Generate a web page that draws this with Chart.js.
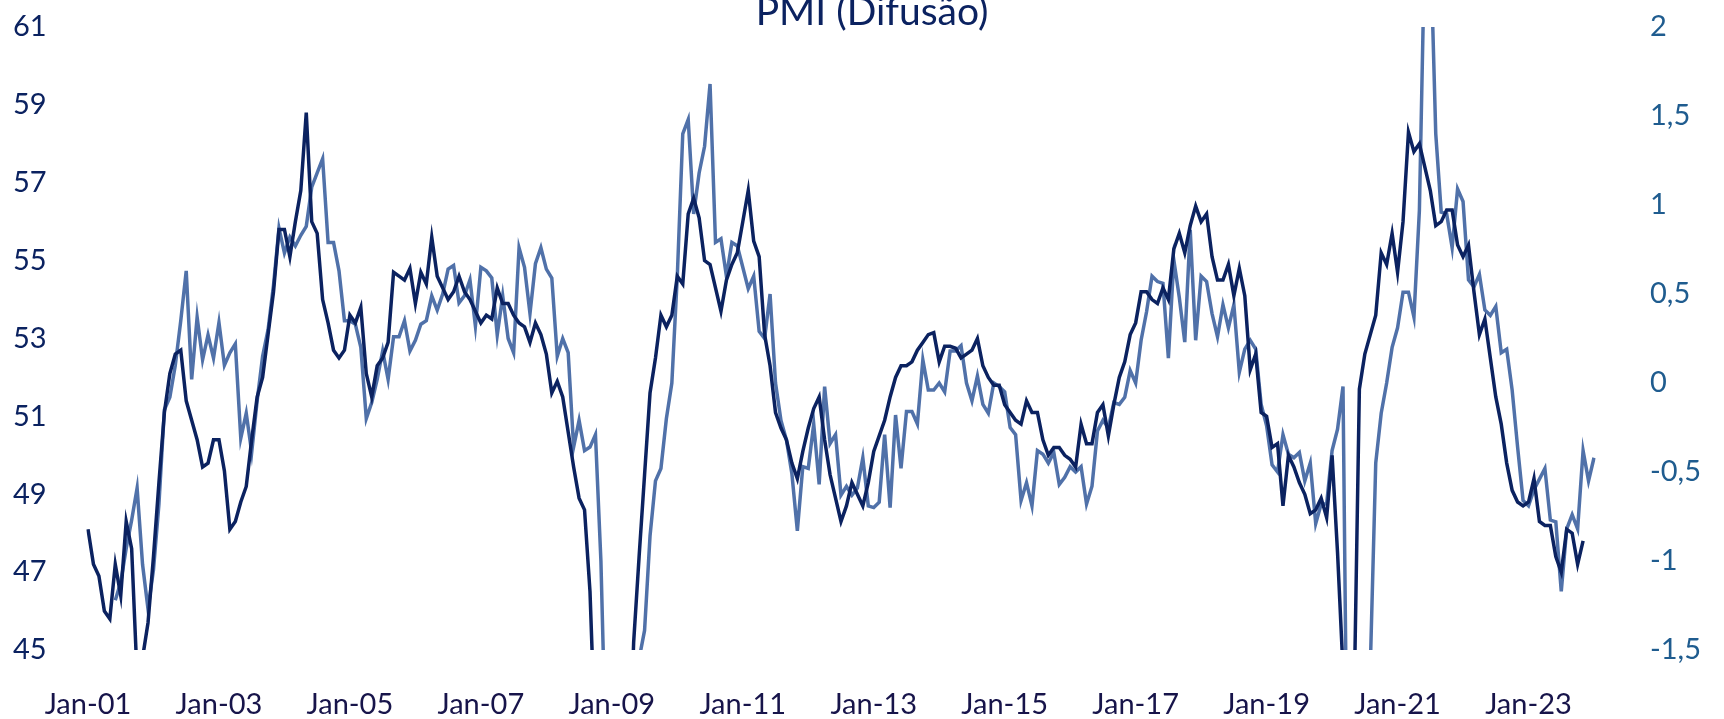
<!DOCTYPE html>
<html>
<head>
<meta charset="utf-8">
<script src="https://cdn.jsdelivr.net/npm/chart.js@4.4.1/dist/chart.umd.min.js"></script>
<style>
  html, body { margin: 0; padding: 0; background: #fff; }
  canvas { display: block; }
</style>
</head>
<body>
<canvas id="pmiChart" width="1724" height="719"></canvas>
<script>
const chartTitle = 'PMI (Difusão)';

// tick labels shown on the x axis (every two years)
const xTickLabels = ['Jan-01', 'Jan-03', 'Jan-05', 'Jan-07', 'Jan-09', 'Jan-11',
  'Jan-13', 'Jan-15', 'Jan-17', 'Jan-19', 'Jan-21', 'Jan-23'];

// monthly categories, Jan-01 .. Jan-24
const monthNames = ['Jan', 'Feb', 'Mar', 'Apr', 'May', 'Jun', 'Jul', 'Aug', 'Sep', 'Oct', 'Nov', 'Dec'];
const months = [];
for (let y = 1; y <= 24; y++) {
  for (let m = 0; m < 12; m++) {
    if (months.length < 277) months.push(monthNames[m] + '-' + String(y).padStart(2, '0'));
  }
}

// PMI level (left axis)
const pmiLevel = [
  48.1, 47.2, 46.9, 46.0, 45.8, 47.2, 46.4, 48.3, 47.6, 44.3, 44.8, 45.7,
  47.4, 49.3, 51.1, 52.1, 52.6, 52.7, 51.4, 50.9, 50.4, 49.7, 49.8, 50.4,
  50.4, 49.6, 48.1, 48.3, 48.8, 49.2, 50.4, 51.5, 52.0, 53.1, 54.2, 55.8,
  55.8, 55.1, 56.0, 56.8, 58.8, 56.0, 55.7, 54.0, 53.4, 52.7, 52.5, 52.7,
  53.6, 53.4, 53.8, 52.1, 51.5, 52.3, 52.5, 52.9, 54.7, 54.6, 54.5, 54.8,
  53.9, 54.7, 54.4, 55.6, 54.6, 54.3, 54.0, 54.2, 54.6, 54.2, 54.0, 53.7,
  53.4, 53.6, 53.5, 54.3, 53.9, 53.9, 53.6, 53.4, 53.3, 52.9, 53.4, 53.1,
  52.6, 51.6, 51.9, 51.5, 50.6, 49.7, 48.9, 48.6, 46.5, 42.5, 38.0, 35.0,
  33.0, 34.0, 37.0, 41.0, 45.2, 47.4, 49.5, 51.6, 52.5, 53.6, 53.3, 53.6,
  54.6, 54.4, 56.2, 56.6, 56.1, 55.0, 54.9, 54.3, 53.7, 54.5, 54.9, 55.2,
  56.0, 56.8, 55.5, 55.1, 53.1, 52.3, 51.1, 50.7, 50.4, 49.8, 49.4, 50.1,
  50.7, 51.2, 51.5, 50.4, 49.5, 48.9, 48.3, 48.7, 49.3, 49.0, 48.7, 49.3,
  50.1, 50.5, 50.9, 51.5, 52.0, 52.3, 52.3, 52.4, 52.7, 52.9, 53.1, 53.15,
  52.4, 52.8, 52.8, 52.75, 52.5, 52.6, 52.7, 53.0, 52.3, 52.0, 51.8, 51.8,
  51.3, 51.1, 50.9, 50.8, 51.4, 51.1, 51.1, 50.4, 50.0, 50.2, 50.2, 50.0,
  49.9, 49.7, 50.8, 50.3, 50.3, 51.1, 51.3, 50.5, 51.3, 52.0, 52.4, 53.1,
  53.4, 54.2, 54.2, 54.0, 53.9, 54.3, 54.0, 55.3, 55.7, 55.2, 55.9, 56.4,
  56.0, 56.2, 55.1, 54.5, 54.5, 54.9, 54.1, 54.8, 54.1, 52.2, 52.6, 51.1,
  51.0, 50.2, 50.3, 48.7, 50.0, 49.7, 49.3, 49.0, 48.5, 48.6, 48.9, 48.4,
  50.0, 47.5, 44.5, 20.0, 43.3, 51.7, 52.6, 53.1, 53.6, 55.2, 54.9, 55.7,
  54.7, 56.0, 58.3, 57.8, 58.0, 57.4, 56.8, 55.9, 56.0, 56.3, 56.3, 55.4,
  55.1, 55.4, 54.2, 53.1, 53.5, 52.5, 51.5, 50.8, 49.8, 49.1, 48.8, 48.7,
  48.8, 49.4, 48.3, 48.2, 48.2, 47.4, 47.0, 48.1, 48.0, 47.2, 47.8, null,
  null
];

// diffusion (right axis)
const pmiDiffusion = [
  null, null, null, null, null, -1.22, -1.12, -0.93, -0.77, -0.59, -1.02, -1.27,
  -1.05, -0.68, -0.15, -0.08, 0.10, 0.35, 0.63, 0.02, 0.37, 0.13, 0.27, 0.14,
  0.34, 0.10, 0.17, 0.22, -0.31, -0.17, -0.39, -0.10, 0.15, 0.30, 0.55, 0.87,
  0.73, 0.82, 0.77, 0.83, 0.88, 1.10, 1.18, 1.26, 0.79, 0.79, 0.63, 0.35,
  0.35, 0.33, 0.20, -0.20, -0.11, 0.02, 0.18, 0.02, 0.26, 0.26, 0.35, 0.18,
  0.24, 0.33, 0.35, 0.49, 0.41, 0.50, 0.64, 0.66, 0.45, 0.49, 0.58, 0.32,
  0.65, 0.63, 0.59, 0.27, 0.49, 0.25, 0.17, 0.76, 0.65, 0.39, 0.67, 0.76,
  0.64, 0.59, 0.15, 0.25, 0.17, -0.36, -0.21, -0.38, -0.36, -0.29, -1.0, -2.2,
  -3.0, -3.5, -3.5, -3.0, -2.3, -1.55, -1.39, -0.86, -0.55, -0.48, -0.20, 0.0,
  0.60, 1.40, 1.48, 0.95, 1.18, 1.33, 1.68, 0.79, 0.81, 0.60, 0.79, 0.77,
  0.65, 0.53, 0.60, 0.29, 0.25, 0.50, 0.0, -0.21, -0.32, -0.51, -0.83, -0.47,
  -0.48, -0.23, -0.57, -0.02, -0.34, -0.29, -0.63, -0.58, -0.63, -0.59, -0.42, -0.69,
  -0.70, -0.67, -0.29, -0.70, -0.18, -0.48, -0.16, -0.16, -0.23, 0.13, -0.04, -0.04,
  0.0, -0.05, 0.18, 0.18, 0.21, 0.0, -0.10, 0.04, -0.12, -0.17, 0.0, -0.02,
  -0.05, -0.25, -0.29, -0.66, -0.56, -0.69, -0.38, -0.40, -0.45, -0.39, -0.57, -0.53,
  -0.47, -0.50, -0.47, -0.68, -0.58, -0.27, -0.21, -0.25, -0.11, -0.12, -0.08, 0.07,
  0.0, 0.24, 0.40, 0.60, 0.57, 0.56, 0.14, 0.69, 0.48, 0.23, 0.86, 0.24,
  0.60, 0.57, 0.39, 0.26, 0.44, 0.31, 0.44, 0.06, 0.19, 0.24, 0.19, -0.12,
  -0.24, -0.46, -0.50, -0.29, -0.40, -0.42, -0.39, -0.55, -0.45, -0.79, -0.68, -0.68,
  -0.38, -0.26, -0.02, -3.0, -4.0, -3.0, -3.0, -1.6, -0.45, -0.17, 0.0, 0.20,
  0.31, 0.51, 0.51, 0.37, 0.97, 2.5, 2.5, 1.40, 0.96, 0.95, 0.76, 1.09,
  1.02, 0.58, 0.54, 0.61, 0.41, 0.38, 0.43, 0.17, 0.19, -0.04, -0.36, -0.66,
  -0.69, -0.60, -0.54, -0.48, -0.77, -0.78, -1.17, -0.82, -0.74, -0.82, -0.38, -0.55,
  -0.42
];

const leftTicks = [45, 47, 49, 51, 53, 55, 57, 59, 61];
const rightTicks = [-1.5, -1, -0.5, 0, 0.5, 1, 1.5, 2];

const navy = '#0b2260';
const steel = '#5071a9';
const font = 'Lato, "Open Sans", sans-serif';

// title sits at the very top, partly cut by the canvas edge
const titlePlugin = {
  id: 'topTitle',
  afterDraw(chart) {
    const c = chart.ctx;
    c.save();
    c.font = '39px ' + font;
    c.fillStyle = navy;
    c.textAlign = 'center';
    c.textBaseline = 'alphabetic';
    c.fillText(chartTitle, 872, 25);
    c.restore();
  }
};

const ctx = document.getElementById('pmiChart').getContext('2d');
const chart = new Chart(ctx, {
  type: 'line',
  data: {
    labels: months,
    datasets: [{
      label: 'PMI',
      data: pmiLevel,
      yAxisID: 'y',
      borderColor: navy,
      borderWidth: 3.5,
      pointRadius: 0,
      tension: 0,
      spanGaps: false
    }, {
      label: 'Difusão',
      data: pmiDiffusion,
      yAxisID: 'y2',
      borderColor: steel,
      borderWidth: 3.5,
      pointRadius: 0,
      tension: 0,
      spanGaps: false
    }]
  },
  options: {
    responsive: false,
    animation: false,
    devicePixelRatio: 1,
    layout: { padding: { left: 13, right: 0, top: 27, bottom: 0 } },
    plugins: {
      legend: { display: false },
      tooltip: { enabled: false },
      title: { display: false }
    },
    scales: {
      x: {
        type: 'category',
        offset: false,
        grid: { display: false, drawTicks: false },
        border: { display: false },
        ticks: {
          autoSkip: false,
          maxRotation: 0,
          minRotation: 0,
          padding: 37,
          color: '#17144a',
          font: { family: font, size: 29 },
          callback: function (value, index) {
            const l = months[index];
            return xTickLabels.includes(l) ? l : '';
          }
        },
        afterFit: function (axis) {
          axis.height = 69;
          axis.paddingLeft = 0;
          axis.paddingRight = 0;
        }
      },
      y: {
        position: 'left',
        min: 45,
        max: 61,
        grid: { display: false, drawTicks: false },
        border: { display: false },
        afterBuildTicks: function (axis) { axis.ticks = leftTicks.map(v => ({ value: v })); },
        ticks: {
          crossAlign: 'far',
          padding: 0,
          color: navy,
          font: { family: font, size: 29 }
        },
        afterFit: function (axis) {
          axis.width = 75;
          axis.paddingTop = 0;
          axis.paddingBottom = 0;
        }
      },
      y2: {
        position: 'right',
        min: -1.5,
        max: 2,
        grid: { display: false, drawTicks: false },
        border: { display: false },
        afterBuildTicks: function (axis) { axis.ticks = rightTicks.map(v => ({ value: v })); },
        ticks: {
          padding: 56,
          color: '#1f5c8f',
          font: { family: font, size: 29 },
          callback: function (v) { return String(v).replace('.', ','); }
        },
        afterFit: function (axis) {
          axis.width = 130;
          axis.paddingTop = 0;
          axis.paddingBottom = 0;
        }
      }
    }
  },
  plugins: [titlePlugin]
});
</script>
</body>
</html>
